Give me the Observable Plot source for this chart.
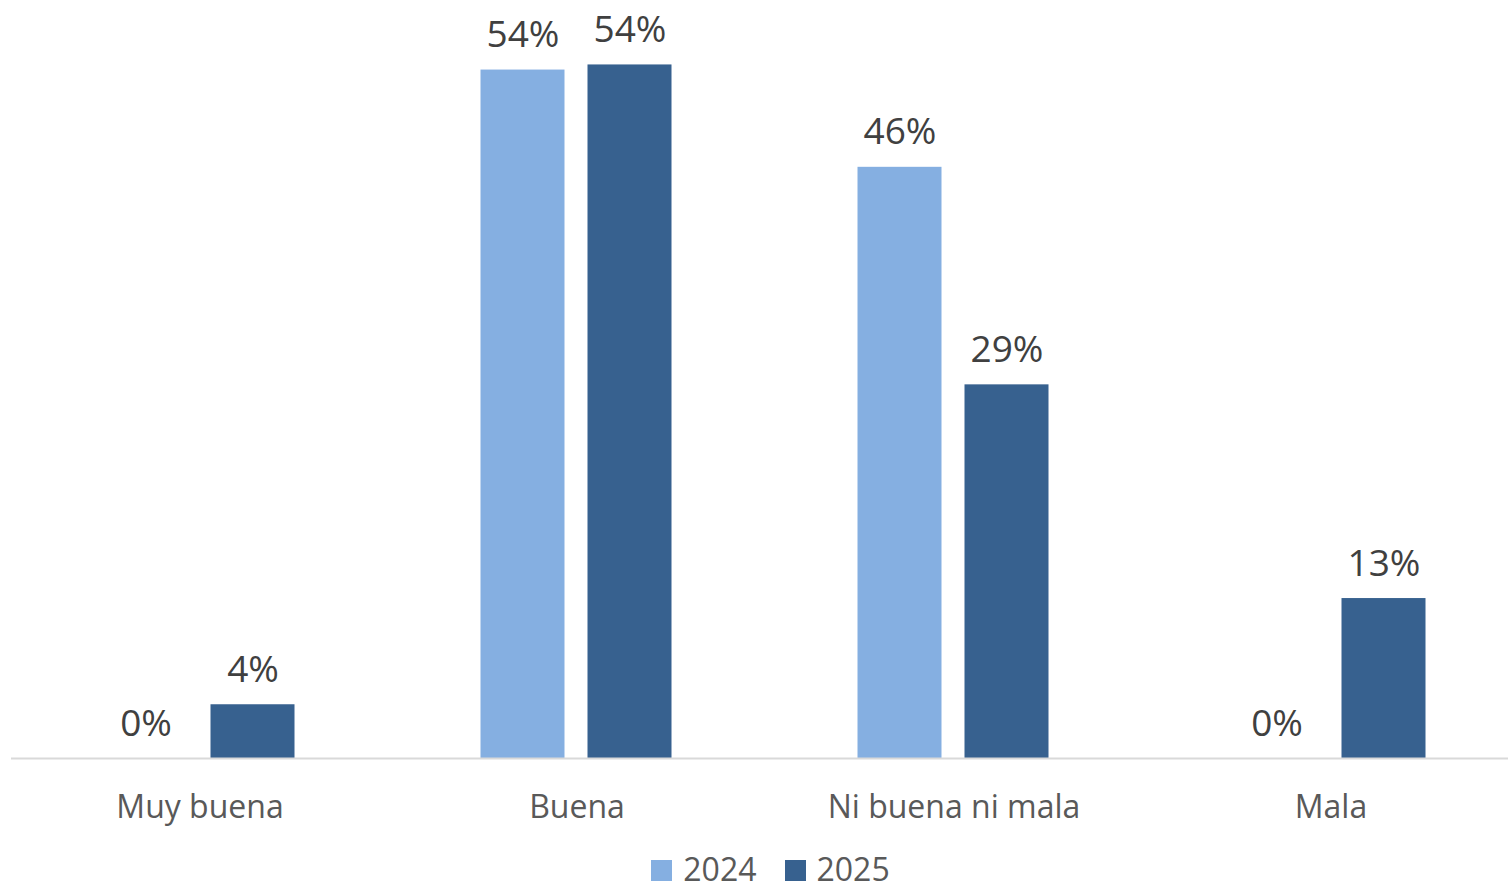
<!DOCTYPE html>
<html>
<head>
<meta charset="utf-8">
<script src="https://cdn.jsdelivr.net/npm/d3@7"></script>
<script src="https://cdn.jsdelivr.net/npm/@observablehq/plot@0.6"></script>
<style>
  html, body { margin: 0; padding: 0; background: #fff; overflow: hidden; }
  #chart svg { display: block; }
  #legend { height: 41px; display: flex; align-items: center; justify-content: center; padding-left: 33px;
            font-family: "Open Sans", sans-serif; font-size: 32px; color: #595959; }
  .item { display: flex; align-items: center; margin: 0 14px; }
  .sw { width: 21px; height: 21px; margin-right: 11px; margin-top: 3px; }
</style>
</head>
<body>
<div id="chart"></div>
<div id="legend"></div>
<script>
const categories = ["Muy buena", "Buena", "Ni buena ni mala", "Mala"];
const years = ["2024", "2025"];
const values2024 = [0, 0.538, 0.462, 0];
const values2025 = [0.042, 0.542, 0.292, 0.125];
const colors = ["#85AFE1", "#37618F"];

const data = [];
categories.forEach((c, i) => {
  data.push({category: c, year: years[0], value: values2024[i]});
  data.push({category: c, year: years[1], value: values2025[i]});
});

const chart = Plot.plot({
  width: 1508,
  height: 848,
  marginLeft: 10.5,
  marginRight: -11.5,
  marginTop: 0,
  marginBottom: 90,
  style: {fontFamily: "Open Sans, sans-serif", background: "#fff"},
  fx: {domain: categories, padding: 0, axis: null},
  x: {domain: years, paddingInner: 0.213, paddingOuter: 0.853, axis: null},
  y: {domain: [0, 0.54], range: [758, 67], axis: null},
  color: {domain: years, range: colors},
  marks: [
    Plot.barY(data, {fx: "category", x: "year", y: "value", fill: "year"}),
    Plot.ruleY([0], {stroke: "#d9d9d9", strokeWidth: 2}),
    Plot.text(data, {fx: "category", x: "year", y: "value", text: d => Math.round(d.value * 100) + "%",
      lineAnchor: "bottom", dy: -23, fontSize: 37, fill: "#404040"}),
    Plot.axisFx({anchor: "bottom", tickSize: 0, tickPadding: 37, fontSize: 32, fill: "#595959", label: null})
  ]
});
document.getElementById("chart").appendChild(chart);

const legend = document.getElementById("legend");
years.forEach((y, i) => {
  const item = document.createElement("div");
  item.className = "item";
  const sw = document.createElement("div");
  sw.className = "sw";
  sw.style.background = colors[i];
  const t = document.createElement("span");
  t.textContent = y;
  item.appendChild(sw);
  item.appendChild(t);
  legend.appendChild(item);
});
</script>
</body>
</html>
